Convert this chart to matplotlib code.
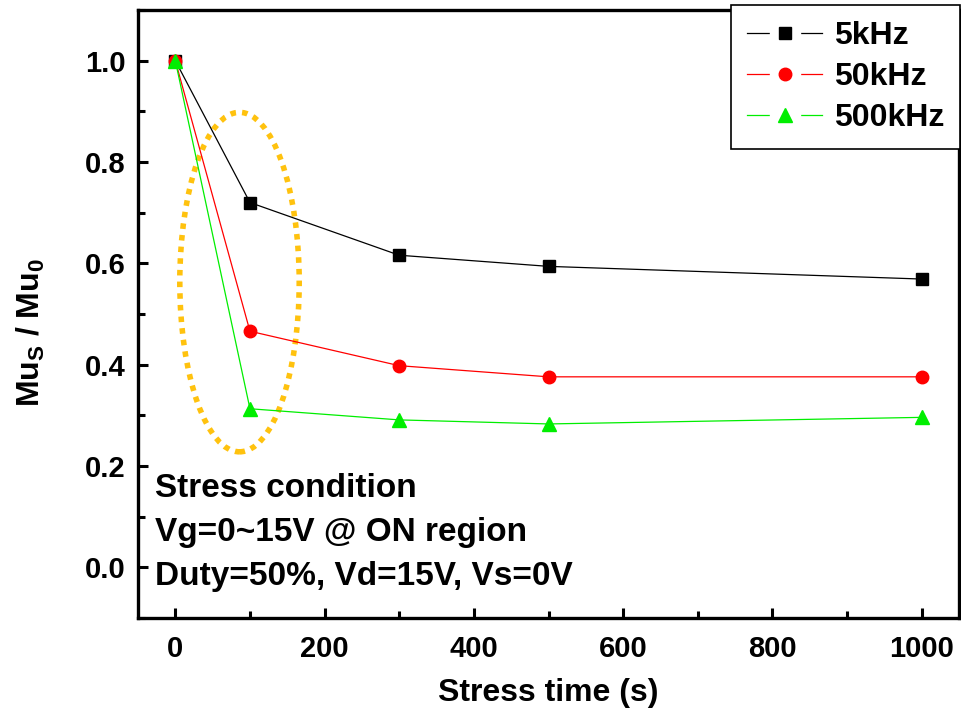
import matplotlib
matplotlib.use("Agg")
import matplotlib.pyplot as plt
from matplotlib.patches import Ellipse
from matplotlib.lines import Line2D
from matplotlib.ticker import MultipleLocator

plt.rcParams['font.family'] = ['Liberation Sans', 'DejaVu Sans']
plt.rcParams['font.weight'] = 'bold'
plt.rcParams['mathtext.fontset'] = 'custom'
plt.rcParams['mathtext.rm'] = 'Liberation Sans:bold'
plt.rcParams['mathtext.bf'] = 'Liberation Sans:bold'
plt.rcParams['mathtext.default'] = 'bf'

stress_time = [0, 100, 300, 500, 1000]
mu_5khz = [1.0, 0.720, 0.616, 0.594, 0.569]
mu_50khz = [1.0, 0.466, 0.398, 0.376, 0.376]
mu_500khz = [1.0, 0.313, 0.291, 0.283, 0.296]
labels = ['5kHz', '50kHz', '500kHz']
colors = ['black', 'red', '#00ee00']
markers = ['s', 'o', '^']
msizes = [9, 9, 10]
annotation = ['Stress condition', 'Vg=0~15V @ ON region', 'Duty=50%, Vd=15V, Vs=0V']

fig = plt.figure(figsize=(9.62, 7.21), dpi=100)
ax = fig.add_axes([138/962, 1-618/721, (959-138)/962, (618-10)/721])

series = [mu_5khz, mu_50khz, mu_500khz]
handles = []
for ys, c, m, ms, lab in zip(series, colors, markers, msizes, labels):
    ax.plot(stress_time, ys, color=c, lw=0.9, marker=m, ms=ms, mfc=c, mec=c)
    h = (Line2D([], [], color=c, lw=0.9),
         Line2D([], [], ls='none', marker='s', ms=21, mfc='white', mec='white'),
         Line2D([], [], ls='none', marker=m, ms=ms, mfc=c, mec=c))
    handles.append(h)

ell = Ellipse((86, 0.563), 160, 0.67, fill=False, edgecolor='#FFC20E', lw=4, ls=(0, (1, 1.1)))
ax.add_patch(ell)

ax.set_xlim(-50, 1050)
ax.set_ylim(-0.1, 1.1)
ax.xaxis.set_major_locator(MultipleLocator(200))
ax.xaxis.set_minor_locator(MultipleLocator(100))
ax.set_yticks([0.0, 0.2, 0.4, 0.6, 0.8, 1.0])
ax.set_yticklabels(['0.0', '0.2', '0.4', '0.6', '0.8', '1.0'])
ax.yaxis.set_minor_locator(MultipleLocator(0.1))
ax.tick_params(which='major', direction='in', length=7.5, width=2.2, labelsize=21)
ax.tick_params(axis='x', which='major', pad=12)
ax.tick_params(axis='y', which='major', pad=9)
ax.tick_params(which='minor', direction='in', length=5, width=2.2)
for s in ax.spines.values():
    s.set_linewidth(2.4)

ax.set_xlabel('Stress time (s)', fontsize=23, fontweight='bold', labelpad=11)
ax.set_ylabel('Mu$_\\mathbf{S}$ / Mu$_\\mathbf{0}$', fontsize=23, fontweight='bold')
ax.yaxis.set_label_coords(-0.111, 0.47)

for txt, yb in zip(annotation, [0.199, 0.127, 0.054]):
    ax.text(0.0207, yb, txt, transform=ax.transAxes, fontsize=24, fontweight='bold',
            va='baseline', ha='left')

leg = ax.legend(handles, labels, loc='upper right', bbox_to_anchor=(1.0012, 1.0082),
                borderaxespad=0, fontsize=23, frameon=True, fancybox=False,
                edgecolor='black', handlelength=2.35, borderpad=0.5,
                labelspacing=0.34, handletextpad=0.35, framealpha=1)
leg.get_frame().set_linewidth(1.2)
leg.set_zorder(5)

fig.savefig('out.png', dpi=100)
